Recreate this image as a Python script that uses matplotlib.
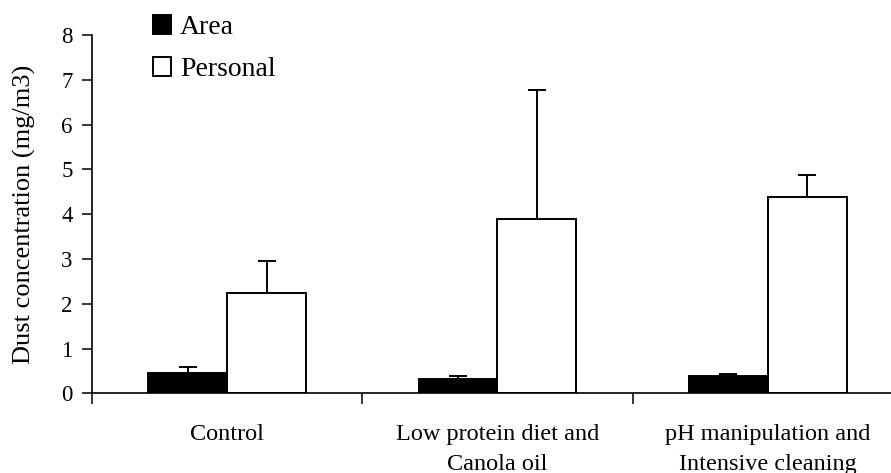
import matplotlib
matplotlib.use("Agg")
import matplotlib.pyplot as plt
from matplotlib.patches import Patch
import numpy as np

# dust concentration, mean and (upper) error, mg/m3
categories = ["Control", "Low protein diet and\nCanola oil",
              "pH manipulation and\nIntensive cleaning"]
area_mean = [0.45, 0.31, 0.39]
area_err = [0.14, 0.08, 0.04]
personal_mean = [2.24, 3.89, 4.39]
personal_err = [0.71, 2.88, 0.48]
y_ticks = [0, 1, 2, 3, 4, 5, 6, 7, 8]


def upper_errorbar(ax, x, y, err, lw):
    """Draws only the upper half of an error bar, with a cap on top"""
    _, caps, _ = ax.errorbar(x, y, yerr=[np.zeros(len(err)), err],
                             fmt="none", ecolor="black", elinewidth=lw,
                             capsize=6.8, capthick=lw, zorder=3)
    # lower cap sits on the bar top, the reference has none
    caps[0].set_visible(False)


def main():
    plt.rcParams['font.family'] = ['Liberation Serif', 'DejaVu Serif']
    fig = plt.figure(figsize=(8.91, 4.73), dpi=100)
    ax = fig.add_axes([0.1033, 0.1685, 0.8967, 0.7575])

    centers = np.arange(len(categories)) + 0.5
    width = 0.292
    lw = 1.4

    ax.bar(centers - width / 2, area_mean, width, color="black",
           edgecolor="black", linewidth=lw, label="Area", zorder=2)
    ax.bar(centers + width / 2, personal_mean, width, color="white",
           edgecolor="black", linewidth=lw, label="Personal", zorder=2)
    upper_errorbar(ax, centers - width / 2, area_mean, area_err, lw)
    upper_errorbar(ax, centers + width / 2, personal_mean, personal_err, lw)

    ax.set_yticks(y_ticks)
    ax.tick_params(axis="y", direction="out", length=7, width=1.1,
                   labelsize=16.5, pad=7)

    # separators between groups as major ticks, names on minor ticks
    ax.set_xticks(np.arange(len(categories) + 1))
    ax.set_xticklabels([])
    ax.tick_params(axis="x", which="major", direction="out", length=8,
                   width=1.1)
    ax.set_xticks(centers, minor=True)
    ax.set_xticklabels(categories, minor=True, fontsize=17.5,
                       linespacing=1.55)
    ax.tick_params(axis="x", which="minor", length=0, pad=22)

    # limits after set_xticks, which would widen them to 3
    ax.set_xlim(0, 2.956)
    ax.set_ylim(0, 8)

    ax.set_ylabel("Dust concentration (mg/m3)", fontsize=19, labelpad=18)

    for side in ["top", "right"]:
        ax.spines[side].set_visible(False)
    for side in ["left", "bottom"]:
        ax.spines[side].set_linewidth(1.2)

    handles = [Patch(facecolor="black", edgecolor="black", linewidth=lw),
               Patch(facecolor="white", edgecolor="black", linewidth=lw)]
    fig.legend(handles, ["Area", "Personal"], loc="upper left",
               bbox_to_anchor=(0.1494, 1.01), frameon=False, fontsize=20,
               handlelength=0.68, handleheight=0.68, handletextpad=0.3,
               labelspacing=0.62, borderpad=0.2)

    fig.savefig("out.png", dpi=100)


if __name__ == '__main__':
    main()
